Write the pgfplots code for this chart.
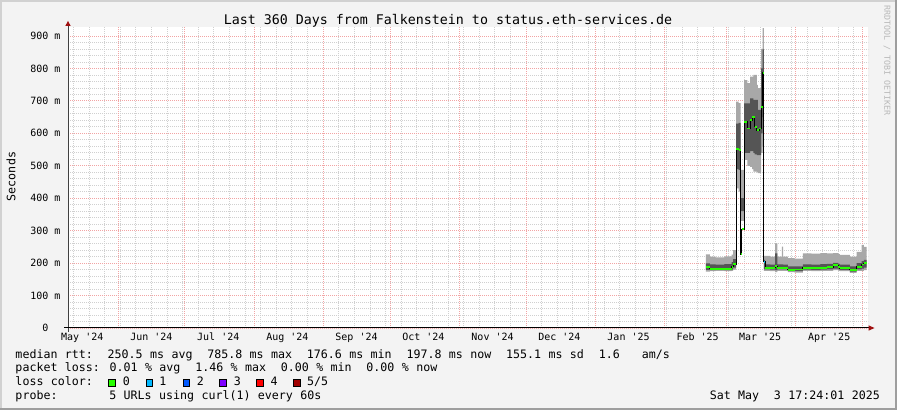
\documentclass[border=0pt]{standalone}
\usepackage{pgfplots}
\pgfplotsset{compat=1.18}
\usepgfplotslibrary{fillbetween}
\usepackage{pgfplotstable}
\usepackage{fontspec}
\setmainfont{DejaVu Sans Mono}
\setmonofont{DejaVu Sans Mono}

\definecolor{bg}{HTML}{F3F3F3}
\definecolor{mgrid}{HTML}{F2A4A4}
\definecolor{ngrid}{HTML}{D0D0D0}
\definecolor{smokelo}{HTML}{A8A8A8}
\definecolor{smokehi}{HTML}{555555}
\definecolor{loss0}{HTML}{26FF00}
\definecolor{loss1}{HTML}{00B8FF}
\definecolor{loss2}{HTML}{0059FF}
\definecolor{loss3}{HTML}{7E00FF}
\definecolor{loss4}{HTML}{FF0000}
\definecolor{loss5}{HTML}{A00000}
\definecolor{arrowred}{HTML}{A01010}
\pagecolor{bg}

% legend font: glyphs 7px, spaces a bit wider as in the rrdtool output
\newcommand\legfont{\fontsize{11.63bp}{14bp}\selectfont\fontdimen2\font=7.4bp\relax}
\newcommand\tickfont{\fontsize{10bp}{12bp}\selectfont}

% x = days since 1 Jun 2024, rtt in ms
% lo/hi = outer smoke, dlo/dhi = inner smoke, med = median
\pgfplotstableread{
x     lo   dlo  med  dhi  hi
263.7 174  179  187  199  227
265.5 175  178  182  196  220
268.0 176  179  183  195  218
272.0 175  178  182  197  221
275.2 176  180  189  203  226
275.9 180  186  197  212  240
277.3 430  490  552  630  698
278.4 420  487  549  632  693
279.3 330  360  228  400  487
279.8 330  360  305  400  487
280.8 518  540  636  692  764
282.3 500  540  615  692  755
283.5 497  545  641  708  775
284.4 490  545  651  708  775
285.0 482  540  651  703  780
285.6 482  535  620  703  780
286.5 480  533  610  703  749
287.0 477  533  610  672  739
287.6 477  533  615  672  739
288.5 540  600  682  800  860
289.1 560  650  786  859  924
289.7 176  181  204  210  222
290.2 176  181  186  196  222
292.5 175  180  185  195  220
294.7 172  178  190  230  261
295.7 176  181  186  196  220
297.8 176  181  186  196  251
298.3 176  181  185  195  220
300.5 172  175  179  190  215
303.5 171  175  180  190  214
307.2 176  180  186  196  230
311.0 175  179  185  195  229
315.0 176  180  186  197  231
318.0 176  181  188  198  230
320.8 178  183  194  201  231
323.1 176  181  188  198  228
323.8 175  179  184  195  225
328.3 170  174  179  190  220
331.3 176  181  189  200  235
333.5 176  183  196  206  256
334.5 178  186  200  210  250
335.8 178  186  200  210  250
}\rtt

\begin{document}%
\begin{tikzpicture}
\begin{axis}[
  at={(68bp,82bp)}, anchor=south west,
  scale only axis, width=800bp, height=301.4bp,
  xmin=-22.4, xmax=336.4, ymin=0, ymax=929,
  axis line style={draw=none},
  axis background/.style={fill=white},
  major tick length=0pt, minor tick length=0pt,
  xtick={-16,15,45,76,107,137,168,198,229,260,288,319},
  xticklabels={May \textquotesingle24,Jun \textquotesingle24,Jul \textquotesingle24,Aug \textquotesingle24,Sep \textquotesingle24,Oct \textquotesingle24,Nov \textquotesingle24,Dec \textquotesingle24,Jan \textquotesingle25,Feb \textquotesingle25,Mar \textquotesingle25,Apr \textquotesingle25},
  minor xtick={-20,-13,...,330},
  extra x ticks={0,30,61,92,122,153,183,214,245,273,304,334},
  extra x tick labels={},
  extra x tick style={grid=major},
  ytick={0,100,...,900},
  yticklabels={0\hphantom{00},100 m,200 m,300 m,400 m,500 m,600 m,700 m,800 m,900 m},
  minor y tick num=4,
  xmajorgrids=false, xminorgrids=true,
  ymajorgrids=true, yminorgrids=true,
  major grid style={mgrid, line width=0.8bp, dash pattern=on 1bp off 1bp},
  minor grid style={ngrid, line width=0.8bp, dash pattern=on 1bp off 1bp},
  tick label style={font=\tickfont, text=black},
  xticklabel style={anchor=base, inner sep=0pt, yshift=-12.7bp},
  yticklabel style={anchor=east, inner sep=0pt, xshift=-7.4bp},
  clip=false,
]
\addplot[name path=hi, draw=none, const plot] table[x=x,y=hi]{\rtt};
\addplot[name path=lo, draw=none, const plot] table[x=x,y=lo]{\rtt};
\addplot[fill=smokelo, draw=none] fill between[of=hi and lo];
\addplot[name path=dhi, draw=none, const plot] table[x=x,y=dhi]{\rtt};
\addplot[name path=dlo, draw=none, const plot] table[x=x,y=dlo]{\rtt};
\addplot[fill=smokehi, draw=none] fill between[of=dhi and dlo];
\addplot[black, line width=1bp, const plot] table[x=x,y=med]{\rtt};
\addplot[loss0, line width=1.8bp, jump mark left] table[x=x,y=med]{\rtt};
\addplot[loss1, line width=1.8bp] coordinates {(289.7,204) (290.2,204)};
\end{axis}

\begin{scope}[x=1bp,y=1bp]
% frame
\draw[line width=2bp, black!18] (1,0) -- (1,409) -- (897,409);
\draw[line width=2bp, black!38] (0,1) -- (896,1) -- (896,410);
% axes with arrow heads
\draw[black!75, line width=1bp] (68,78) -- (68,385);
\fill[arrowred] (65.3,384) -- (70.7,384) -- (68,389) -- cycle;
\draw[black, line width=1bp] (64,82) -- (869,82);
\fill[arrowred] (868.5,79.3) -- (868.5,84.7) -- (874.5,82) -- cycle;

% title and labels
\node[anchor=base, inner sep=0, font=\fontsize{13.3bp}{16bp}\selectfont] at (448,386)
  {Last 360 Days from Falkenstein to status.eth-services.de};
\node[rotate=90, inner sep=0, font=\legfont] at (11,233.5) {Seconds};
\node[rotate=-90, anchor=west, inner sep=0, text=black!28,
  font=\fontsize{8.3bp}{10bp}\selectfont] at (887,405) {RRDTOOL / TOBI OETIKER};

% legend
\begin{scope}[every node/.style={anchor=base west, inner sep=0, font=\legfont}]
\node at (15.3,51.7) {median rtt:~~250.5 ms avg~~785.8 ms max~~176.6 ms min~~197.8 ms now~~155.1 ms sd~~1.6~~~am/s};
\node at (15.3,38.3) {packet loss: 0.01 \% avg~~1.46 \% max~~0.00 \% min~~0.00 \% now};
\node at (15.3,24.5) {loss color:};
\filldraw[fill=loss0, draw=black, line width=0.9bp] (108.7,23.7) rectangle (115.3,30.3);
\node at (122.6,24.5) {0};
\filldraw[fill=loss1, draw=black, line width=0.9bp] (146.1,23.7) rectangle (152.7,30.3);
\node at (159.3,24.5) {1};
\filldraw[fill=loss2, draw=black, line width=0.9bp] (183.1,23.7) rectangle (189.7,30.3);
\node at (196.6,24.5) {2};
\filldraw[fill=loss3, draw=black, line width=0.9bp] (219.7,23.7) rectangle (226.3,30.3);
\node at (233.6,24.5) {3};
\filldraw[fill=loss4, draw=black, line width=0.9bp] (256.4,23.7) rectangle (263.0,30.3);
\node at (270.3,24.5) {4};
\filldraw[fill=loss5, draw=black, line width=0.9bp] (293.4,23.7) rectangle (300.0,30.3);
\node at (307.0,24.5) {5/5};
\node at (15.3,11) {probe:~~~~~~~5 URLs using curl(1) every 60s};
\node[anchor=base east] at (880,11) {Sat May~~3 17:24:01 2025};
\end{scope}
\end{scope}

\pgfresetboundingbox
\useasboundingbox (0,0) rectangle (897bp,410bp);
\end{tikzpicture}%
\end{document}
